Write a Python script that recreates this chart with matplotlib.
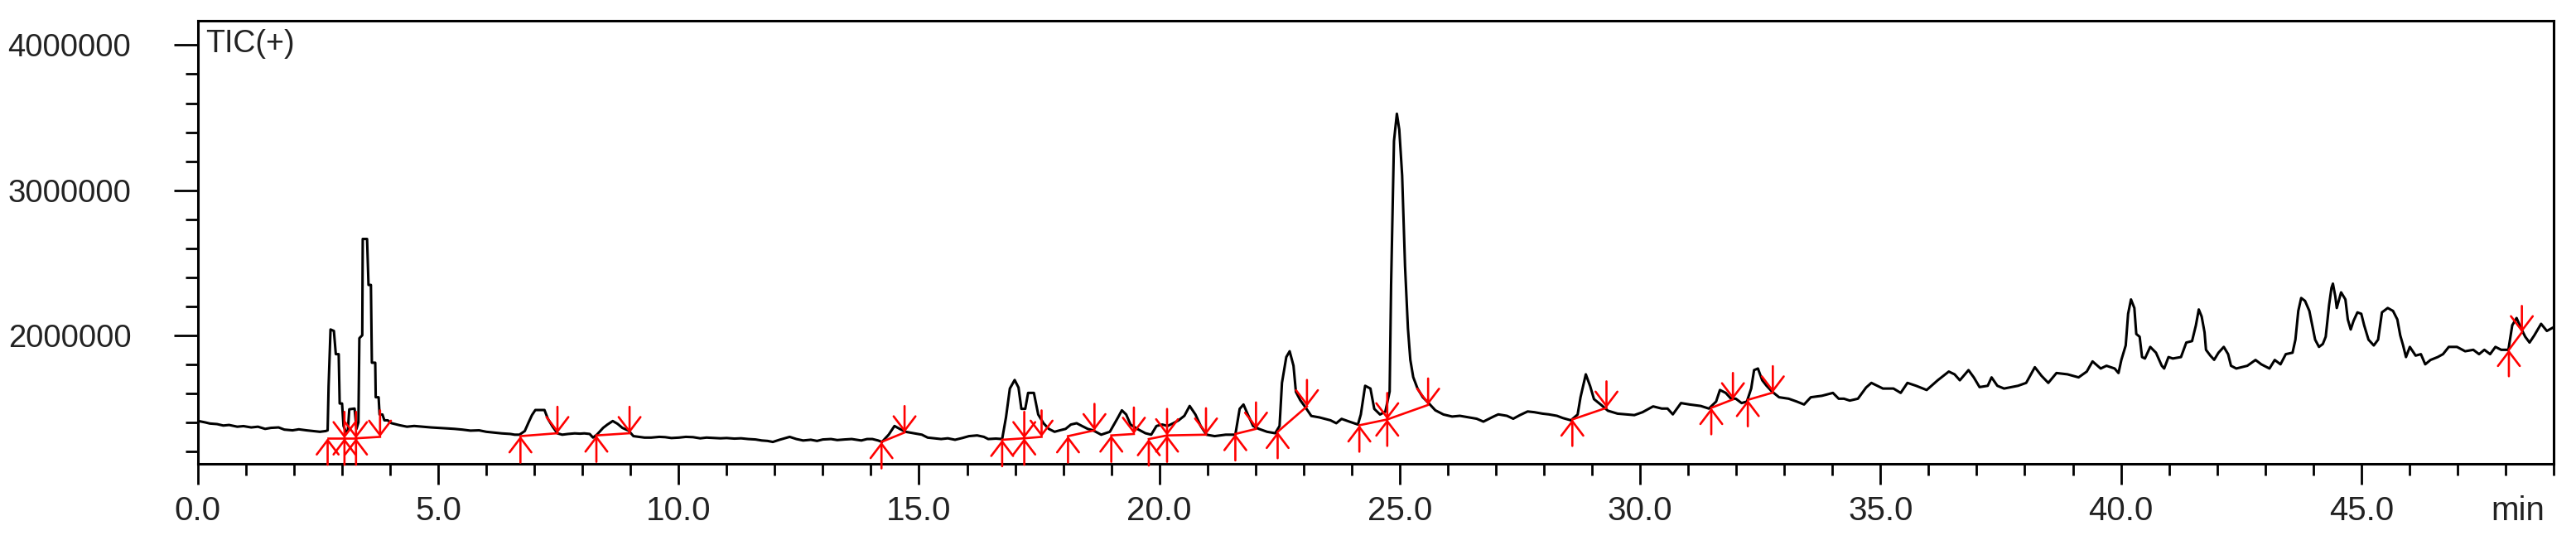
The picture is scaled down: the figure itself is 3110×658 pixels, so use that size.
import matplotlib
matplotlib.use('Agg')
import matplotlib.pyplot as plt
from matplotlib.ticker import MultipleLocator, FixedLocator, FuncFormatter

plt.rcParams['font.family'] = ['Liberation Sans', 'DejaVu Sans']

# TIC trace: retention time (min), intensity (x 1e6)
time_min = [
    0.00, 0.15, 0.25, 0.40, 0.53, 0.65, 0.82, 0.95, 1.11, 1.25, 1.40, 1.52, 1.68, 1.80, 1.97,
    2.10, 2.26, 2.40, 2.54, 2.66, 2.70, 2.72, 2.76, 2.83, 2.87, 2.93, 2.95, 3.00, 3.03, 3.08,
    3.12, 3.15, 3.26, 3.30, 3.34, 3.36, 3.42, 3.43, 3.52, 3.55, 3.60, 3.62, 3.69, 3.70, 3.76,
    3.78, 3.84, 3.88, 3.95, 4.02, 4.20, 4.35, 4.50, 4.68, 4.85, 5.01, 5.20, 5.34, 5.50, 5.67,
    5.85, 6.00, 6.15, 6.32, 6.50, 6.59, 6.69, 6.80, 6.88, 6.95, 7.02, 7.21, 7.28, 7.38, 7.48,
    7.58, 7.70, 7.84, 7.95, 8.04, 8.15, 8.22, 8.30, 8.43, 8.52, 8.63, 8.73, 8.83, 8.96, 9.06,
    9.18, 9.29, 9.43, 9.60, 9.72, 9.85, 10.01, 10.15, 10.30, 10.45, 10.58, 10.75, 10.87, 11.00,
    11.16, 11.30, 11.45, 11.60, 11.73, 11.85, 11.96, 12.10, 12.31, 12.45, 12.59, 12.75, 12.88,
    13.00, 13.17, 13.30, 13.45, 13.60, 13.80, 13.92, 14.03, 14.15, 14.23, 14.37, 14.49, 14.60,
    14.72, 14.89, 15.06, 15.18, 15.32, 15.46, 15.60, 15.75, 15.90, 16.04, 16.21, 16.35, 16.44,
    16.60, 16.73, 16.81, 16.89, 16.99, 17.07, 17.13, 17.21, 17.27, 17.39, 17.48, 17.59, 17.70,
    17.82, 17.93, 18.05, 18.16, 18.28, 18.39, 18.51, 18.62, 18.79, 18.97, 19.14, 19.22, 19.31,
    19.40, 19.54, 19.71, 19.83, 19.94, 20.06, 20.17, 20.29, 20.40, 20.52, 20.63, 20.75, 20.86,
    20.98, 21.15, 21.38, 21.58, 21.67, 21.75, 21.84, 21.95, 22.07, 22.24, 22.41, 22.50, 22.55,
    22.64, 22.71, 22.79, 22.84, 22.93, 23.04, 23.16, 23.33, 23.56, 23.68, 23.79, 23.96, 24.13,
    24.19, 24.28, 24.39, 24.47, 24.59, 24.70, 24.79, 24.82, 24.88, 24.94, 24.99, 25.05, 25.11,
    25.17, 25.22, 25.28, 25.37, 25.48, 25.60, 25.74, 25.91, 26.09, 26.25, 26.43, 26.60, 26.74,
    26.95, 27.05, 27.23, 27.36, 27.50, 27.66, 27.80, 27.97, 28.10, 28.27, 28.39, 28.56, 28.70,
    28.76, 28.87, 28.96, 29.04, 29.19, 29.33, 29.53, 29.70, 29.88, 30.05, 30.27, 30.45, 30.57,
    30.68, 30.85, 31.03, 31.26, 31.43, 31.58, 31.66, 31.78, 31.89, 31.99, 32.11, 32.22, 32.31,
    32.37, 32.45, 32.54, 32.63, 32.74, 32.89, 33.09, 33.26, 33.41, 33.55, 33.78, 34.01, 34.13,
    34.24, 34.36, 34.53, 34.70, 34.81, 35.05, 35.27, 35.42, 35.56, 35.74, 35.96, 36.19, 36.42,
    36.54, 36.65, 36.83, 36.94, 37.06, 37.23, 37.31, 37.43, 37.57, 37.86, 38.03, 38.21, 38.35,
    38.49, 38.66, 38.89, 39.12, 39.29, 39.41, 39.58, 39.70, 39.87, 39.95, 40.01, 40.10, 40.15,
    40.21, 40.28, 40.32, 40.39, 40.44, 40.50, 40.61, 40.73, 40.85, 40.90, 40.99, 41.08, 41.25,
    41.36, 41.48, 41.56, 41.62, 41.68, 41.74, 41.77, 41.86, 41.94, 42.03, 42.14, 42.23, 42.29,
    42.40, 42.63, 42.80, 42.92, 43.09, 43.20, 43.32, 43.43, 43.57, 43.63, 43.69, 43.75, 43.83,
    43.92, 43.98, 44.04, 44.12, 44.20, 44.26, 44.33, 44.38, 44.41, 44.46, 44.49, 44.58, 44.67,
    44.72, 44.78, 44.84, 44.92, 45.00, 45.06, 45.15, 45.26, 45.35, 45.43, 45.55, 45.66, 45.75,
    45.81, 45.87, 45.93, 46.01, 46.13, 46.24, 46.33, 46.44, 46.59, 46.70, 46.82, 46.99, 47.16,
    47.33, 47.45, 47.56, 47.68, 47.79, 47.91, 48.06, 48.14, 48.23, 48.32, 48.41, 48.50, 48.60,
    48.74, 48.86, 48.97,
]
tic_mil = [
    1.410, 1.400, 1.392, 1.388, 1.378, 1.382, 1.370, 1.374, 1.365, 1.370, 1.355, 1.362, 1.365, 1.350, 1.345,
    1.352, 1.345, 1.340, 1.335, 1.340, 1.345, 1.650, 2.040, 2.030, 1.870, 1.870, 1.530, 1.530, 1.375, 1.335,
    1.340, 1.490, 1.495, 1.355, 1.400, 1.980, 2.000, 2.664, 2.664, 2.347, 2.347, 1.811, 1.811, 1.573, 1.573,
    1.454, 1.454, 1.414, 1.414, 1.395, 1.380, 1.370, 1.375, 1.370, 1.365, 1.362, 1.358, 1.355, 1.350, 1.343,
    1.345, 1.335, 1.330, 1.324, 1.320, 1.315, 1.315, 1.340, 1.400, 1.450, 1.485, 1.485, 1.425, 1.370, 1.324,
    1.315, 1.320, 1.324, 1.322, 1.324, 1.320, 1.295, 1.315, 1.362, 1.385, 1.409, 1.390, 1.362, 1.343, 1.305,
    1.300, 1.295, 1.295, 1.300, 1.298, 1.292, 1.295, 1.300, 1.298, 1.290, 1.295, 1.292, 1.290, 1.292,
    1.288, 1.290, 1.285, 1.282, 1.275, 1.272, 1.265, 1.280, 1.300, 1.285, 1.275, 1.280, 1.272,
    1.282, 1.285, 1.278, 1.282, 1.285, 1.275, 1.285, 1.285, 1.275, 1.265, 1.315, 1.375, 1.355,
    1.335, 1.325, 1.315, 1.295, 1.290, 1.285, 1.290, 1.280, 1.292, 1.305, 1.310, 1.300, 1.285,
    1.288, 1.285, 1.435, 1.633, 1.692, 1.640, 1.493, 1.493, 1.603, 1.603, 1.454, 1.394, 1.355,
    1.335, 1.345, 1.355, 1.385, 1.394, 1.375, 1.355, 1.345, 1.315, 1.335, 1.434, 1.483, 1.454,
    1.385, 1.355, 1.325, 1.315, 1.375, 1.385, 1.375, 1.394, 1.414, 1.445, 1.513, 1.454, 1.375,
    1.315, 1.305, 1.315, 1.315, 1.493, 1.523, 1.454, 1.375, 1.355, 1.335, 1.325, 1.375, 1.672,
    1.850, 1.890, 1.790, 1.610, 1.553, 1.503, 1.444, 1.434, 1.414, 1.394, 1.424, 1.404, 1.385,
    1.454, 1.652, 1.633, 1.493, 1.454, 1.474, 1.613, 2.347, 3.339, 3.527, 3.418, 3.101, 2.476,
    2.049, 1.831, 1.712, 1.633, 1.573, 1.533, 1.483, 1.454, 1.440, 1.445, 1.435, 1.425, 1.405,
    1.440, 1.455, 1.445, 1.425, 1.450, 1.475, 1.470, 1.460, 1.455, 1.445, 1.430, 1.414, 1.454,
    1.573, 1.731, 1.650, 1.560, 1.520, 1.480, 1.460, 1.455, 1.450, 1.470, 1.510, 1.495, 1.495,
    1.455, 1.533, 1.523, 1.513, 1.495, 1.543, 1.623, 1.603, 1.563, 1.563, 1.533, 1.543, 1.633,
    1.760, 1.771, 1.690, 1.652, 1.613, 1.573, 1.563, 1.543, 1.523, 1.573, 1.583, 1.603, 1.563,
    1.563, 1.550, 1.563, 1.640, 1.672, 1.633, 1.633, 1.603, 1.672, 1.652, 1.623, 1.690, 1.750,
    1.731, 1.690, 1.760, 1.710, 1.643, 1.652, 1.710, 1.652, 1.633, 1.652, 1.672, 1.780, 1.720,
    1.672, 1.740, 1.731, 1.710, 1.750, 1.820, 1.771, 1.790, 1.771, 1.740, 1.831, 1.930, 2.148,
    2.247, 2.188, 2.009, 1.990, 1.850, 1.840, 1.920, 1.880, 1.790, 1.771, 1.850, 1.840, 1.850,
    1.950, 1.960, 2.069, 2.178, 2.129, 2.020, 1.900, 1.860, 1.831, 1.880, 1.920, 1.870, 1.790,
    1.771, 1.790, 1.830, 1.800, 1.771, 1.830, 1.800, 1.870, 1.880, 1.970, 2.168, 2.257, 2.237,
    2.168, 2.069, 1.970, 1.920, 1.940, 1.990, 2.208, 2.327, 2.356, 2.267, 2.188, 2.296, 2.247,
    2.109, 2.040, 2.100, 2.158, 2.148, 2.069, 1.970, 1.930, 1.970, 2.158, 2.188, 2.168, 2.109,
    2.000, 1.930, 1.850, 1.920, 1.860, 1.870, 1.800, 1.830, 1.850, 1.870, 1.920, 1.920, 1.890,
    1.900, 1.870, 1.900, 1.870, 1.920, 1.900, 1.900, 2.069, 2.119, 2.050, 1.990, 1.950, 2.000,
    2.079, 2.030, 2.050,
]

# peak integration marks: start / end of each peak (min, x 1e6)
start_min = [2.70, 3.05, 3.29, 6.71, 8.29, 14.22, 16.73, 17.19, 18.10, 19.00,
             19.78, 20.16, 21.58, 22.46, 24.16, 24.74, 28.59, 31.48, 32.24, 48.07]
start_mil = [1.29, 1.29, 1.29, 1.305, 1.31, 1.265, 1.28, 1.29, 1.305, 1.31,
             1.285, 1.31, 1.32, 1.335, 1.38, 1.42, 1.42, 1.50, 1.555, 1.90]
end_min = [3.05, 3.29, 3.79, 7.48, 8.98, 14.70, 17.19, 17.55, 18.65, 19.47,
           20.16, 20.97, 22.01, 23.07, 24.74, 25.59, 29.30, 31.93, 32.76, 48.34]
end_mil = [1.29, 1.29, 1.30, 1.325, 1.325, 1.33, 1.29, 1.30, 1.345, 1.32,
           1.31, 1.315, 1.355, 1.51, 1.42, 1.52, 1.50, 1.558, 1.605, 2.02]

y_major = [2000000, 3000000, 4000000]

fig = plt.figure(figsize=(31.1, 6.58), dpi=100)
ax = fig.add_axes([0.0768, 0.1489, 0.9145, 0.8131])

ax.plot(time_min, [v * 1e6 for v in tic_mil], color='black', lw=2.2)

arrow = dict(arrowstyle='->,head_length=1.25,head_width=0.95', color='red', lw=1.9,
             shrinkA=0, shrinkB=0)
for t0, y0, t1, y1 in zip(start_min, start_mil, end_min, end_mil):
    ax.plot([t0, t1], [y0 * 1e6, y1 * 1e6], color='red', lw=1.9)
    ax.annotate('', xy=(t0, y0 * 1e6), xytext=(0, -23), textcoords='offset points',
                arrowprops=arrow)
    ax.annotate('', xy=(t1, y1 * 1e6), xytext=(0, 23), textcoords='offset points',
                arrowprops=arrow)

ax.set_xlim(0, 49.0)
ax.set_ylim(1.114e6, 4.168e6)

ax.xaxis.set_major_locator(MultipleLocator(5))
ax.xaxis.set_minor_locator(MultipleLocator(1))
ax.xaxis.set_major_formatter(FuncFormatter(lambda v, p: '%.1f' % v))
ax.yaxis.set_major_locator(FixedLocator(y_major))
ax.yaxis.set_minor_locator(MultipleLocator(200000))
ax.yaxis.set_major_formatter(FuncFormatter(lambda v, p: '%d' % v))

txt = '#222222'
ax.tick_params(axis='x', which='major', length=18, width=2, pad=9, labelsize=29, labelcolor=txt)
ax.tick_params(axis='x', which='minor', length=10, width=2)
ax.tick_params(axis='y', which='major', length=21, width=2, pad=37, labelsize=27.5, labelcolor=txt)
ax.tick_params(axis='y', which='minor', length=11, width=2)
for s in ax.spines.values():
    s.set_linewidth(2.2)

ax.annotate('TIC(+)', xy=(0, 1), xycoords='axes fraction', xytext=(6.5, -7),
            textcoords='offset points', ha='left', va='top', fontsize=27, color=txt)
ax.annotate('min', xy=(48.25, 0), xycoords=('data', 'axes fraction'), xytext=(0, -27),
            textcoords='offset points', ha='center', va='top', fontsize=29, color=txt)

fig.savefig('out.png', dpi=100)
